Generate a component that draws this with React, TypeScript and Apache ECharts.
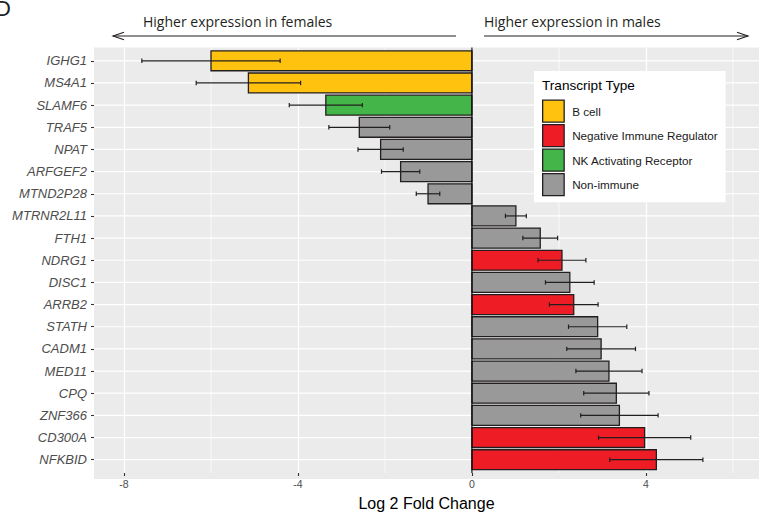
import React, { useEffect, useRef } from 'react';
import * as echarts from 'echarts';

// Differentially expressed transcripts, top to bottom
const genes = [
  'IGHG1', 'MS4A1', 'SLAMF6', 'TRAF5', 'NPAT', 'ARFGEF2', 'MTND2P28',
  'MTRNR2L11', 'FTH1', 'NDRG1', 'DISC1', 'ARRB2', 'STATH', 'CADM1',
  'MED11', 'CPQ', 'ZNF366', 'CD300A', 'NFKBID',
];
const log2FoldChange = [
  -6.0, -5.14, -3.36, -2.59, -2.1, -1.64, -1.01,
  1.01, 1.57, 2.07, 2.25, 2.34, 2.89, 2.97,
  3.15, 3.32, 3.39, 3.97, 4.24,
];
const stdError = [
  1.59, 1.2, 0.84, 0.7, 0.52, 0.44, 0.27,
  0.24, 0.4, 0.55, 0.56, 0.56, 0.67, 0.79,
  0.76, 0.75, 0.89, 1.06, 1.07,
];
const transcriptType = [
  'B cell', 'B cell', 'NK Activating Receptor', 'Non-immune', 'Non-immune', 'Non-immune', 'Non-immune',
  'Non-immune', 'Non-immune', 'Negative Immune Regulator', 'Non-immune', 'Negative Immune Regulator', 'Non-immune', 'Non-immune',
  'Non-immune', 'Non-immune', 'Non-immune', 'Negative Immune Regulator', 'Negative Immune Regulator',
];
const typeNames = ['B cell', 'Negative Immune Regulator', 'NK Activating Receptor', 'Non-immune'];
const typeColors = ['#FEC20F', '#EE1D25', '#44B649', '#999999'];
const xMajorTicks = [-8, -4, 0, 4];
const xMinorTicks = [-6, -2, 2, 6];

const INK = '#231F20';
const SANS = '"Liberation Sans", Arial, Helvetica, sans-serif';
const PANEL = { left: 94, top: 47.5, width: 665, height: 431.5 };

const barRenderer = (params: any, api: any) => {
  const v = api.value(0);
  const i = api.value(1);
  const a = api.coord([0, i]);
  const b = api.coord([v, i]);
  const h = api.size([0, 0.9])[1];
  return {
    type: 'rect',
    shape: { x: Math.min(a[0], b[0]), y: a[1] - h / 2, width: Math.abs(b[0] - a[0]), height: h },
    style: { fill: api.visual('color'), stroke: INK, lineWidth: 1.3 },
  };
};

const errorRenderer = (params: any, api: any) => {
  const i = api.value(2);
  const lo = api.coord([api.value(0), i]);
  const hi = api.coord([api.value(1), i]);
  const c = api.size([0, 0.1])[1];
  const st = { stroke: INK, lineWidth: 1.2 };
  return {
    type: 'group',
    children: [
      { type: 'line', shape: { x1: lo[0], y1: lo[1], x2: hi[0], y2: hi[1] }, style: st },
      { type: 'line', shape: { x1: lo[0], y1: lo[1] - c, x2: lo[0], y2: lo[1] + c }, style: st },
      { type: 'line', shape: { x1: hi[0], y1: hi[1] - c, x2: hi[0], y2: hi[1] + c }, style: st },
    ],
  };
};

// white horizontal grid line through each gene row
const rowLineRenderer = (params: any, api: any) => {
  const cs = params.coordSys;
  const y = api.coord([0, api.value(1)])[1];
  return {
    type: 'line',
    shape: { x1: cs.x, y1: y, x2: cs.x + cs.width, y2: y },
    style: { stroke: '#FFFFFF', lineWidth: 1.2 },
  };
};

// full-height vertical line at an x value
const vLineRenderer = (color: string, width: number) => (params: any, api: any) => {
  const cs = params.coordSys;
  const x = api.coord([api.value(0), 0])[0];
  return {
    type: 'line',
    shape: { x1: x, y1: cs.y, x2: x, y2: cs.y + cs.height },
    style: { stroke: color, lineWidth: width },
  };
};

const arrowText = (text: string, x: number) => ({
  type: 'text',
  x,
  y: 21.5,
  z: 100,
  style: { text, fontFamily: '"Open Sans", sans-serif', fontSize: 14, fill: INK, verticalAlign: 'middle' },
});

export default function App() {
  const ref = useRef<HTMLDivElement>(null);

  useEffect(() => {
    if (!ref.current) return;
    const chart = echarts.init(ref.current, undefined, { renderer: 'svg' });

    const barSeries = typeNames.map((name, k) => ({
      type: 'custom',
      name,
      coordinateSystem: 'cartesian2d',
      itemStyle: { color: typeColors[k] },
      encode: { x: 0, y: 1 },
      z: 6,
      silent: true,
      data: genes
        .map((_, i) => (transcriptType[i] === name ? [log2FoldChange[i], i] : null))
        .filter((d) => d !== null),
      renderItem: barRenderer,
    }));

    chart.setOption({
      animation: false,
      grid: {
        left: PANEL.left,
        top: PANEL.top,
        width: PANEL.width,
        height: PANEL.height,
        show: false,
      },
      xAxis: {
        type: 'value',
        min: -8.69,
        max: 6.6,
        splitNumber: 8,
        name: 'Log 2 Fold Change',
        nameLocation: 'middle',
        nameGap: 22,
        nameTextStyle: { fontFamily: SANS, fontSize: 16, color: '#000' },
        axisLine: { show: false, onZero: false },
        axisTick: { show: true, length: 3, customValues: xMajorTicks, lineStyle: { color: '#333', width: 1.1 } },
        axisLabel: {
          customValues: xMajorTicks,
          margin: 5,
          fontFamily: SANS,
          fontSize: 10.5,
          color: '#4D4D4D',
          formatter: (v: number) => (xMajorTicks.includes(v) ? String(v) : ''),
        },
        splitLine: { show: true, lineStyle: { color: '#FFFFFF', width: 1.2 } },
      },
      yAxis: {
        type: 'value',
        min: -0.6,
        max: 18.6,
        splitNumber: 19,
        inverse: true,
        axisLine: { show: false, onZero: false },
        axisTick: {
          show: true,
          length: 3,
          customValues: genes.map((_, i) => i),
          lineStyle: { color: '#333', width: 1.1 },
        },
        axisLabel: {
          customValues: genes.map((_, i) => i),
          margin: 7,
          fontFamily: SANS,
          fontSize: 13,
          fontStyle: 'italic',
          color: '#4D4D4D',
          formatter: (v: number) => (Number.isInteger(v) ? genes[v] ?? '' : ''),
        },
        splitLine: { show: false },
      },
      legend: {
        show: true,
        orient: 'vertical',
        left: 534,
        top: 71,
        z: 20,
        padding: [28.5, 8, 6, 8],
        backgroundColor: '#FFFFFF',
        itemWidth: 21.5,
        itemHeight: 22,
        itemGap: 1.2,
        icon: 'rect',
        selectedMode: false,
        data: typeNames,
        itemStyle: { borderColor: INK, borderWidth: 1.3 },
        textStyle: { fontFamily: SANS, fontSize: 11.7, color: '#1A1A1A', padding: [0, 0, 0, 3] },
      },
      graphic: [
        // grey plotting panel, kept beneath the axes and series
        {
          type: 'rect',
          z: -10,
          silent: true,
          shape: { x: PANEL.left, y: PANEL.top, width: PANEL.width, height: PANEL.height },
          style: { fill: '#EBEBEB' },
        },
        // panel letter
        {
          type: 'text',
          x: -5,
          y: 19,
          z: 100,
          style: { text: 'D', fontFamily: SANS, fontSize: 22, fill: INK, verticalAlign: 'bottom' },
        },
        arrowText('Higher expression in females', 143),
        arrowText('Higher expression in males', 484),
        { type: 'line', z: 100, shape: { x1: 113, y1: 36, x2: 456, y2: 36 }, style: { stroke: INK, lineWidth: 1.1 } },
        { type: 'polyline', z: 100, shape: { points: [[124, 32.2], [113, 36], [124, 39.8]] }, style: { stroke: INK, lineWidth: 1.1, fill: 'none' } },
        { type: 'line', z: 100, shape: { x1: 484, y1: 36, x2: 748, y2: 36 }, style: { stroke: INK, lineWidth: 1.1 } },
        { type: 'polyline', z: 100, shape: { points: [[737, 32.2], [748, 36], [737, 39.8]] }, style: { stroke: INK, lineWidth: 1.1, fill: 'none' } },
        // legend title
        {
          type: 'text',
          x: 542,
          y: 85,
          z: 100,
          style: { text: 'Transcript Type', fontFamily: SANS, fontSize: 13.6, fill: '#000', verticalAlign: 'middle' },
        },
      ],
      series: [
        {
          type: 'custom',
          name: 'minorGrid',
          coordinateSystem: 'cartesian2d',
          encode: { x: 0, y: 1 },
          z: 2,
          silent: true,
          data: xMinorTicks.map((v, k) => [v, k]),
          renderItem: vLineRenderer('#FFFFFF', 0.7),
        },
        {
          type: 'custom',
          name: 'rowGrid',
          coordinateSystem: 'cartesian2d',
          encode: { x: 0, y: 1 },
          z: 2,
          silent: true,
          data: genes.map((_, i) => [0, i]),
          renderItem: rowLineRenderer,
        },
        ...barSeries,
        {
          type: 'custom',
          name: 'zero',
          coordinateSystem: 'cartesian2d',
          encode: { x: 0, y: 1 },
          z: 7,
          silent: true,
          data: [[0, 0]],
          renderItem: vLineRenderer('#000000', 1.1),
        },
        {
          type: 'custom',
          name: 'error',
          coordinateSystem: 'cartesian2d',
          encode: { x: [0, 1], y: 2 },
          z: 8,
          silent: true,
          data: genes.map((_, i) => [log2FoldChange[i] - stdError[i], log2FoldChange[i] + stdError[i], i]),
          renderItem: errorRenderer,
        },
      ],
    });

    return () => chart.dispose();
  }, []);

  return (
    <div
      ref={ref}
      style={{ position: 'fixed', left: 0, top: 0, width: 759, height: 516, background: '#fff' }}
    />
  );
}
